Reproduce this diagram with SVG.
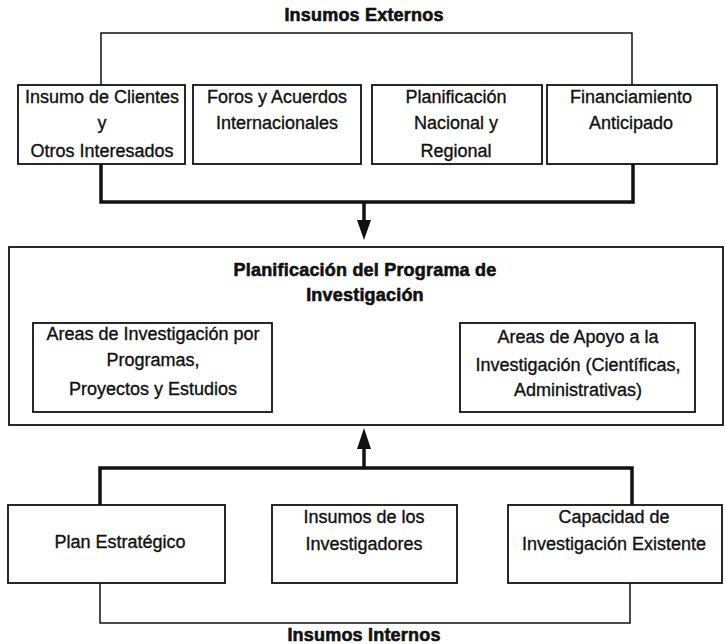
<svg xmlns="http://www.w3.org/2000/svg" width="725" height="644" viewBox="0 0 725 644">
<style>
.box{fill:#fff;stroke:#111;stroke-width:1.8}
.t{font-family:"Liberation Sans",Arial,sans-serif;font-size:18px;fill:#111;text-anchor:middle;stroke:#111;stroke-width:0.35}
.b{font-weight:bold;stroke-width:0.6;letter-spacing:0.2px}
.thin{fill:none;stroke:#111;stroke-width:1.5}
.thick{fill:none;stroke:#111;stroke-width:3.5}
.mid{fill:none;stroke:#111;stroke-width:2.2}
.ah{fill:#111}
</style>
<rect width="725" height="644" fill="#fff"/>
<g id="connectors">
  <polyline class="thin" points="101,85 101,33 632,33 632,85"/>
  <polyline class="thick" points="101,164 101,202 633,202 633,164"/>
  <line class="thick" x1="364" y1="202" x2="364" y2="222"/>
  <polygon class="ah" points="357,220 371,220 364,240"/>
  <line class="mid" x1="272" y1="368" x2="460" y2="368"/>
  <polyline class="thick" points="100,505 100,468 632,468 632,505"/>
  <line class="thick" x1="364" y1="468" x2="364" y2="446"/>
  <polygon class="ah" points="357,449 371,449 364,428"/>
  <polyline class="thin" points="100,583 100,623 630,623 630,583"/>
</g>
<g id="label-externos"><text class="t b" x="364" y="21">Insumos Externos</text></g>
<g id="n1">
  <rect class="box" x="18" y="85" width="167" height="79"/>
  <text class="t" x="102" y="103">Insumo de Clientes</text>
  <text class="t" x="102" y="129">y</text>
  <text class="t" x="102" y="157">Otros Interesados</text>
</g>
<g id="n2">
  <rect class="box" x="193" y="85" width="168" height="79"/>
  <text class="t" x="277" y="103">Foros y Acuerdos</text>
  <text class="t" x="277" y="129">Internacionales</text>
</g>
<g id="n3">
  <rect class="box" x="372" y="85" width="170" height="79"/>
  <text class="t" x="456" y="103">Planificación</text>
  <text class="t" x="456" y="129">Nacional y</text>
  <text class="t" x="456" y="157">Regional</text>
</g>
<g id="n4">
  <rect class="box" x="547" y="85" width="170" height="79"/>
  <text class="t" x="631" y="103">Financiamiento</text>
  <text class="t" x="631" y="129">Anticipado</text>
</g>
<g id="planificacion">
  <rect class="box" x="9" y="247" width="714" height="178" stroke-width="2.2"/>
  <text class="t b" x="365" y="276">Planificación del Programa de</text>
  <text class="t b" x="365" y="301">Investigación</text>
</g>
<g id="areas-inv">
  <rect class="box" x="33" y="323" width="239" height="89"/>
  <text class="t" x="153" y="340">Areas de Investigación por</text>
  <text class="t" x="153" y="366">Programas,</text>
  <text class="t" x="153" y="395">Proyectos y Estudios</text>
</g>
<g id="areas-apoyo">
  <rect class="box" x="460" y="323" width="235" height="89"/>
  <text class="t" x="578" y="343">Areas de Apoyo a la</text>
  <text class="t" x="578" y="371">Investigación (Científicas,</text>
  <text class="t" x="578" y="396">Administrativas)</text>
</g>
<g id="plan-estrategico">
  <rect class="box" x="8" y="505" width="217" height="78"/>
  <text class="t" x="120" y="548">Plan Estratégico</text>
</g>
<g id="insumos-investigadores">
  <rect class="box" x="272" y="505" width="185" height="78"/>
  <text class="t" x="364" y="523">Insumos de los</text>
  <text class="t" x="364" y="550">Investigadores</text>
</g>
<g id="capacidad">
  <rect class="box" x="508" y="505" width="214" height="78"/>
  <text class="t" x="614" y="523">Capacidad de</text>
  <text class="t" x="614" y="550">Investigación Existente</text>
</g>
<g id="label-internos"><text class="t b" x="364" y="641">Insumos Internos</text></g>
</svg>
